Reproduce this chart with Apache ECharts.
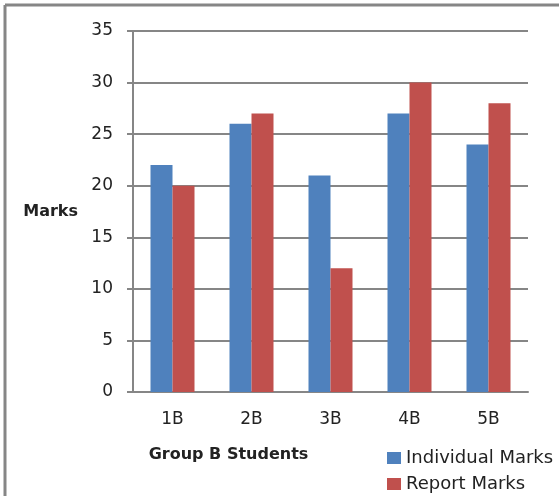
<!DOCTYPE html>
<html>
<head>
<meta charset="utf-8">
<script src="https://cdn.jsdelivr.net/npm/echarts@6/dist/echarts.min.js"></script>
<style>
    html, body { margin: 0; padding: 0; background: #fff; }
    #chart { width: 559px; height: 496px; }
</style>
</head>
<body>
<div id="chart"></div>
<script>
// 数据
const students = ['1B', '2B', '3B', '4B', '5B'];
const individualMarks = [22, 26, 21, 27, 24];
const reportMarks = [20, 27, 12, 30, 28];

const axisColor = '#868686';
const textColor = '#222';
const font = 'DejaVu Sans';

const chart = echarts.init(document.getElementById('chart'));

const option = {
    animation: false,
    textStyle: { fontFamily: font },
    // 外框（上边和左边）
    graphic: [
        { type: 'line', shape: { x1: 5, y1: 5, x2: 559, y2: 5 }, style: { stroke: axisColor, lineWidth: 3 } },
        { type: 'line', shape: { x1: 5, y1: 5, x2: 5, y2: 496 }, style: { stroke: axisColor, lineWidth: 3 } }
    ],
    grid: {
        left: 133,
        right: 31,
        top: 31,
        bottom: 104
    },
    legend: {
        orient: 'vertical',
        left: 387,
        top: 449,
        height: 60,
        padding: 0,
        itemWidth: 14,
        itemHeight: 12,
        itemGap: 8,
        icon: 'rect',
        textStyle: { fontSize: 18, color: textColor, fontFamily: font },
        data: ['Individual Marks', 'Report Marks']
    },
    xAxis: {
        type: 'category',
        data: students,
        name: 'Group B Students',
        nameLocation: 'middle',
        nameGap: 55,
        nameTextStyle: {
            fontSize: 16,
            fontWeight: 'bold',
            color: textColor,
            verticalAlign: 'top',
            padding: [0, 204, 0, 0]
        },
        axisLine: { lineStyle: { color: axisColor, width: 2 } },
        axisTick: { length: 6, lineStyle: { color: axisColor, width: 2 } },
        axisLabel: { fontSize: 17, color: textColor, margin: 19 }
    },
    yAxis: {
        type: 'value',
        min: 0,
        max: 35,
        interval: 5,
        name: 'Marks',
        nameLocation: 'middle',
        nameRotate: 0,
        nameGap: 55,
        nameTextStyle: { fontSize: 16, fontWeight: 'bold', color: textColor },
        axisLine: { show: true, lineStyle: { color: axisColor, width: 2 } },
        axisTick: { show: true, length: 6, lineStyle: { color: axisColor, width: 2 } },
        axisLabel: { fontSize: 17, color: textColor, margin: 20 },
        splitLine: { lineStyle: { color: axisColor, width: 2 } }
    },
    series: [
        {
            name: 'Individual Marks',
            type: 'bar',
            data: individualMarks,
            barWidth: 22,
            barGap: '0%',
            itemStyle: { color: '#4F81BD' }
        },
        {
            name: 'Report Marks',
            type: 'bar',
            data: reportMarks,
            barWidth: 22,
            barGap: '0%',
            itemStyle: { color: '#C0504D' }
        }
    ]
};

chart.setOption(option);
</script>
</body>
</html>
